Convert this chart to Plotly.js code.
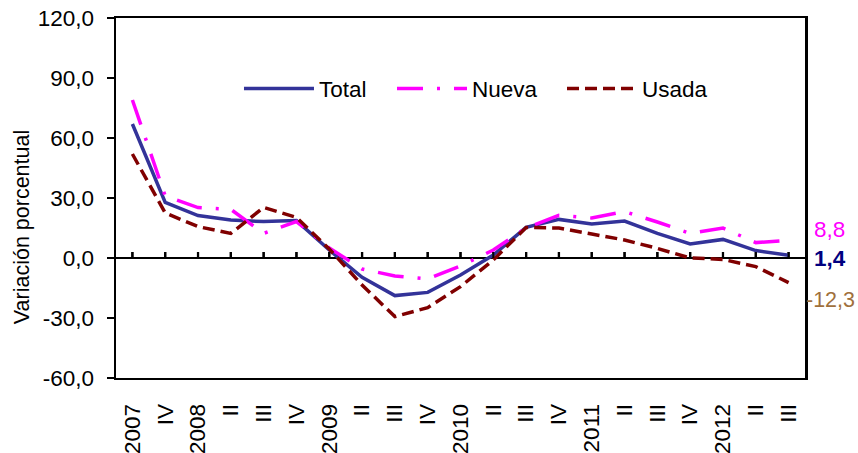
<!DOCTYPE html>
<html>
<head>
<meta charset="utf-8">
<script src="https://cdn.plot.ly/plotly-3.0.1.min.js"></script>
<style>html,body{margin:0;padding:0;background:#fff;}#chart{width:858px;height:453px;}</style>
</head>
<body>
<div id="chart"></div>
<script>
const periods = ['2007-III','2007-IV','2008-I','2008-II','2008-III','2008-IV','2009-I','2009-II','2009-III','2009-IV','2010-I','2010-II','2010-III','2010-IV','2011-I','2011-II','2011-III','2011-IV','2012-I','2012-II','2012-III'];
const tickLabels = ['2007','IV','2008','II','III','IV','2009','II','III','IV','2010','II','III','IV','2011','II','III','IV','2012','II','III'];
const total = [67, 27.8, 21.2, 19, 18.2, 18.7, 4, -9.7, -18.8, -17.2, -8.5, 1.5, 15.3, 19.3, 17, 18.5, 12.3, 7, 9.3, 3.7, 1.4];
const nueva = [79, 31, 25.2, 24.3, 12.3, 18.2, 5, -5.5, -9, -10.5, -4, 4, 15, 21.3, 20, 23.2, 18, 12.3, 15, 7.7, 8.8];
const usada = [52, 22.5, 15.7, 12.3, 25.3, 20.3, 4.5, -13.5, -29.3, -24.8, -14.3, -1, 15.3, 15, 12, 9, 4.8, 0, -0.7, -4.3, -12.3];
const yTicks = [-60, -30, 0, 30, 60, 90, 120];
const yMin = -60, yMax = 120;

const FONT = 'Liberation Sans, Arial, sans-serif';
const FS = 22.5;
const fmt = v => v.toFixed(1).replace('.', ',');

// category tick marks standing on the zero line (~6 px tall, ~2 px wide)
const tickH = (yMax - yMin) * 6 / 360;
const zeroTickTrace = {
  x: periods, y: periods.map(() => tickH), base: 0, type: 'bar', width: 0.07,
  marker: {color: '#000', line: {width: 0}}, showlegend: false, hoverinfo: 'skip'
};
const zeroTickShapes = periods.map(p => ({
  type: 'line', xref: 'x', yref: 'y', x0: p, x1: p, y0: 0, y1: tickH,
  line: {color: '#000', width: 2}, layer: 'above'
}));

const traces = [
  zeroTickTrace,
  {name: 'Total', x: periods, y: total, type: 'scatter', mode: 'lines', legend: 'legend',
   line: {color: '#333399', width: 3.5}},
  {name: 'Nueva', x: periods, y: nueva, type: 'scatter', mode: 'lines', legend: 'legend2',
   line: {color: '#FF00FF', width: 3.5, dash: '26px,14px,3px,14px'}},
  {name: 'Usada', x: periods, y: usada, type: 'scatter', mode: 'lines', legend: 'legend3',
   line: {color: '#800000', width: 3.5, dash: '12px,6px'}}
];

const legendBase = {orientation: 'h', y: 0.803, xanchor: 'left', yanchor: 'middle',
  font: {size: FS, family: FONT, color: '#000'}, itemwidth: 70, bgcolor: 'rgba(0,0,0,0)'};

const layout = {
  width: 858, height: 453,
  margin: {l: 116, r: 53, t: 18, b: 75},
  paper_bgcolor: '#fff', plot_bgcolor: '#fff',
  font: {family: FONT, color: '#000', size: FS},
  showlegend: true,
  legend: Object.assign({}, legendBase, {x: 0.1785}),
  legend2: Object.assign({}, legendBase, {x: 0.4006}),
  legend3: Object.assign({}, legendBase, {x: 0.6473}),
  xaxis: {type: 'category', categoryarray: periods, tickvals: periods, ticktext: tickLabels, tickangle: -90,
          range: [-0.5, periods.length - 0.5], showline: true, linecolor: '#000', linewidth: 2,
          mirror: true, ticks: '', showgrid: false, zeroline: false,
          tickfont: {size: FS}, ticklabelstandoff: 15},
  yaxis: {range: [yMin, yMax], tickvals: yTicks, ticktext: yTicks.map(fmt),
          showline: true, linecolor: '#000', linewidth: 2.5, mirror: true,
          ticks: 'outside', ticklen: 7, tickwidth: 1.5, tickcolor: '#000',
          showgrid: false, zeroline: true, zerolinecolor: '#000', zerolinewidth: 2,
          tickfont: {size: FS}, ticklabelstandoff: 8},
  shapes: zeroTickShapes,
  annotations: [
    {text: 'Variación porcentual', xref: 'paper', yref: 'paper', x: -0.1364, y: 0.419,
     textangle: -90, showarrow: false, font: {size: 21.5, family: FONT, color: '#000'},
     xanchor: 'center', yanchor: 'middle'},
    {text: fmt(nueva[nueva.length - 1]), xref: 'paper', yref: 'y', x: 1.01, y: nueva[nueva.length - 1],
     yshift: 11, xanchor: 'left', yanchor: 'middle', showarrow: false,
     font: {size: FS, family: FONT, color: '#FF00FF'}},
    {text: '<b>' + fmt(total[total.length - 1]) + '</b>', xref: 'paper', yref: 'y', x: 1.01, y: total[total.length - 1],
     yshift: -3, xanchor: 'left', yanchor: 'middle', showarrow: false,
     font: {size: FS, family: FONT, color: '#000080'}},
    {text: fmt(usada[usada.length - 1]), xref: 'paper', yref: 'y', x: 0.998, y: usada[usada.length - 1],
     yshift: -17, xanchor: 'left', yanchor: 'middle', showarrow: false,
     font: {size: 21.5, family: FONT, color: '#A0703C'}}
  ]
};

Plotly.newPlot('chart', traces, layout, {displayModeBar: false, staticPlot: true});
</script>
</body>
</html>
